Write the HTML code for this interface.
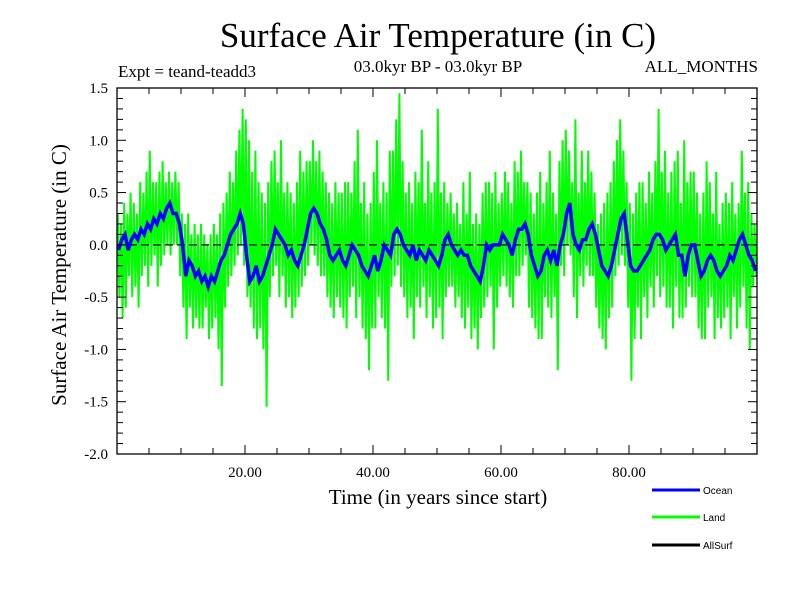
<!DOCTYPE html>
<html><head><meta charset="utf-8"><style>
body{margin:0;background:#fff}
svg text{font-family:"Liberation Serif",serif}
</style></head><body>
<svg id="chart" width="800" height="600" viewBox="0 0 800 600" xmlns="http://www.w3.org/2000/svg">
<text x="438" y="47" font-size="35" text-anchor="middle">Surface Air Temperature (in C)</text>
<text x="118" y="77" font-size="17">Expt = teand-teadd3</text>
<text x="438" y="72" font-size="17" text-anchor="middle">03.0kyr BP - 03.0kyr BP</text>
<text x="758" y="72" font-size="17" text-anchor="end">ALL_MONTHS</text>
<text transform="translate(66,275) rotate(-90)" font-size="21" text-anchor="middle">Surface Air Temperature (in C)</text>
<text x="438" y="504" font-size="21" text-anchor="middle">Time (in years since start)</text>
<g id="plot"></g>
<g id="axes"></g>
<g>
<line x1="652" y1="490" x2="700" y2="490" stroke="#0000ff" stroke-width="3"/>
<text x="703" y="494" font-size="10" style="font-family:'Liberation Sans',sans-serif">Ocean</text>
<line x1="652" y1="517" x2="700" y2="517" stroke="#00ff00" stroke-width="3"/>
<text x="703" y="521" font-size="10" style="font-family:'Liberation Sans',sans-serif">Land</text>
<line x1="652" y1="545" x2="700" y2="545" stroke="#000" stroke-width="3"/>
<text x="703" y="549" font-size="10" style="font-family:'Liberation Sans',sans-serif">AllSurf</text>
</g>
</svg>
<script>
const yTicks=[1.5,1.0,0.5,0.0,-0.5,-1.0,-1.5,-2.0];
const yTickLabels=["1.5","1.0","0.5","0.0","-0.5","-1.0","-1.5","-2.0"];
const xTicks=[20,40,60,80];
const xTickLabels=["20.00","40.00","60.00","80.00"];
const ocean=[-0.05,0.05,0.1,-0.05,0.05,0.1,0.05,0.15,0.1,0.2,0.15,0.25,0.2,0.3,0.25,0.35,0.4,0.3,0.3,0.2,
0.0,-0.3,-0.15,-0.2,-0.3,-0.25,-0.35,-0.3,-0.4,-0.3,-0.35,-0.25,-0.15,-0.1,0.0,0.1,0.15,0.2,0.3,0.2,
-0.1,-0.35,-0.3,-0.2,-0.35,-0.3,-0.2,-0.1,0.0,0.15,0.1,0.05,0.0,-0.1,-0.05,-0.15,-0.2,-0.1,0.0,0.15,
0.3,0.35,0.3,0.2,0.15,0.05,-0.1,-0.15,-0.1,-0.05,-0.15,-0.2,-0.1,0.0,-0.05,-0.1,-0.2,-0.25,-0.3,-0.2,
-0.1,-0.25,-0.15,0.0,-0.05,-0.1,0.1,0.15,0.1,0.0,-0.05,-0.1,0.0,-0.15,-0.05,-0.1,-0.15,-0.05,-0.1,-0.15,
-0.2,-0.1,0.05,0.1,0.0,-0.05,-0.1,-0.05,-0.1,-0.1,-0.2,-0.25,-0.3,-0.35,-0.2,0.0,-0.05,0.0,0.0,0.0,
0.1,0.05,0.0,-0.1,0.05,0.15,0.15,0.2,0.1,-0.1,-0.2,-0.3,-0.25,-0.1,-0.05,-0.15,-0.05,-0.2,0.0,0.1,
0.3,0.4,0.1,0.0,-0.05,0.05,0.05,0.15,0.2,0.1,-0.05,-0.2,-0.25,-0.3,-0.2,-0.05,0.1,0.25,0.3,0.05,
-0.2,-0.25,-0.25,-0.2,-0.15,-0.1,-0.05,0.05,0.1,0.1,0.05,-0.05,0.0,0.05,0.1,-0.1,-0.1,-0.3,-0.1,0.0,
0.0,-0.15,-0.3,-0.25,-0.15,-0.1,-0.15,-0.25,-0.3,-0.25,-0.2,-0.1,-0.15,-0.05,0.05,0.1,0.0,-0.1,-0.15,-0.25];
const land=[0.3,-0.5,0.2,-0.7,0.4,-0.6,0.3,-0.3,0.5,-0.5,0.4,-0.4,0.3,-0.6,0.6,-0.3,0.5,-0.2,0.7,-0.4,
0.9,-0.2,0.6,-0.1,0.6,-0.4,0.7,-0.2,0.8,-0.1,0.6,0.0,0.7,-0.1,0.6,0.0,0.7,0.0,0.6,-0.3,
0.3,-0.6,0.2,-0.9,0.3,-0.6,0.1,-0.8,0.2,-0.7,0.1,-0.8,0.2,-0.8,0.1,-0.6,0.0,-0.9,0.1,-0.8,
0.2,-0.7,0.1,-1.0,0.3,-1.35,0.4,-0.6,0.5,-0.4,0.7,-0.3,0.6,-0.2,0.9,-0.1,1.1,0.0,1.3,-0.2,
1.2,-0.5,1.0,-0.6,0.7,-0.8,0.9,-0.9,0.6,-0.8,0.5,-1.0,0.4,-1.55,0.6,-0.5,0.8,-0.3,0.9,-0.2,
0.6,-0.5,1.0,-0.3,0.5,-0.6,0.6,-0.5,0.5,-0.7,0.4,-0.6,0.6,-0.5,0.9,-0.4,0.7,-0.3,0.8,-0.2,
0.8,0.0,1.0,-0.1,0.8,-0.2,0.9,-0.3,0.7,-0.3,0.6,-0.5,0.5,-0.6,0.4,-0.7,0.6,-0.5,0.5,-0.6,
0.5,-0.7,0.6,-0.8,0.6,-0.5,0.5,-0.4,0.8,-0.7,1.1,-0.5,0.4,-0.8,0.6,-0.9,0.3,-1.2,0.4,-0.8,
0.7,-0.8,1.0,-0.5,0.4,-0.7,0.6,-0.8,0.5,-1.3,0.9,-0.4,0.9,-0.3,1.2,-0.2,1.45,-0.4,0.8,-0.5,
0.5,-0.7,0.6,-0.6,0.4,-0.9,0.7,-0.5,0.6,-0.6,1.1,-0.4,0.4,-0.7,0.8,-0.5,0.5,-0.8,0.6,-0.7,
1.3,-0.6,0.5,-0.9,0.6,-0.5,0.4,-0.4,0.5,-0.4,0.3,-0.6,0.4,-0.5,0.2,-0.7,0.6,-0.8,0.3,-0.6,
0.7,-0.9,0.2,-0.8,0.3,-1.0,0.2,-0.7,0.5,-0.6,0.6,-0.5,0.6,-0.4,0.5,-1.0,0.7,-0.6,0.4,-0.4,
0.5,-0.3,0.7,-0.4,0.6,-0.5,0.4,-0.6,0.8,-0.3,0.7,-0.3,0.9,-0.2,0.6,-0.1,0.6,-0.6,0.5,-0.7,
0.3,-0.8,0.5,-0.9,0.7,-0.9,0.4,-0.5,0.6,-0.6,0.9,-0.7,0.5,-0.5,0.3,-1.2,0.8,-0.2,1.0,-0.3,
1.1,0.0,0.9,-0.1,0.6,-0.5,1.2,-0.7,0.5,-0.3,0.9,-0.4,0.6,-0.2,0.9,-0.3,0.7,-0.3,0.5,-0.6,
0.2,-0.8,0.3,-0.9,0.4,-1.0,0.5,-0.7,0.6,-0.6,0.8,-0.3,1.0,-0.2,1.2,-0.1,0.9,-0.2,0.6,-0.6,
0.4,-1.3,0.3,-0.9,0.5,-0.6,0.6,-0.9,0.6,-0.5,0.4,-0.7,0.7,-0.4,0.5,-0.6,0.8,-0.3,1.3,-0.5,
0.7,-0.4,0.9,-0.6,0.5,-0.6,0.7,-0.8,0.8,-0.4,0.9,-0.7,0.4,-0.7,1.0,-0.6,0.6,-0.4,0.7,-0.5,
0.7,-0.5,0.5,-0.8,0.3,-0.9,0.5,-0.9,0.8,-0.6,0.6,-0.5,0.3,-0.9,0.7,-0.7,0.2,-0.8,0.4,-0.7,
0.5,-0.6,0.4,-0.9,0.6,-0.5,0.3,-0.8,0.4,-0.6,0.9,-0.4,0.5,-0.8,0.6,-1.0,0.3,-0.4,0.2,-0.3];

const X0=117,X1=757,Y0=454,Y1=88;
const xs=t=>X0+(t/100)*(X1-X0);
const ys=v=>Y0-(v+2)/3.5*(Y0-Y1);
const NS="http://www.w3.org/2000/svg";
const plot=document.getElementById('plot'), axes=document.getElementById('axes');
function mk(tag,attrs,parent){const e=document.createElementNS(NS,tag);for(const k in attrs)e.setAttribute(k,attrs[k]);parent.appendChild(e);return e;}

let pts=land.map((v,i)=>xs((i+0.5)*100/land.length).toFixed(1)+','+ys(v).toFixed(1)).join(' ');
const landLine=mk('polyline',{points:pts,fill:'none',stroke:'#00ff00','stroke-width':2},plot);


const zl=mk('line',{x1:X0,x2:X1,y1:ys(0),y2:ys(0),stroke:'#000','stroke-width':1.2,'stroke-dasharray':'8,4'},plot);


pts=ocean.map((v,i)=>xs((i+0.5)*100/ocean.length).toFixed(1)+','+ys(v).toFixed(1)).join(' ');
const oceanLine=mk('polyline',{points:pts,fill:'none',stroke:'#0000ff','stroke-width':3.5},plot);



const fr=mk('rect',{x:X0,y:Y1,width:X1-X0,height:Y0-Y1,fill:'none',stroke:'#000','stroke-width':1.3},axes);


for(let k=0;k<=35;k++){const v=-2+k*0.1;const y=ys(v);const L=(k%5===0)?9:6;
 mk('line',{x1:X0,x2:X0+L,y1:y,y2:y,stroke:'#000','stroke-width':1},axes);
 mk('line',{x1:X1,x2:X1-L,y1:y,y2:y,stroke:'#000','stroke-width':1},axes);}
for(let t=5;t<100;t+=5){const x=xs(t);const L=(t%20===0)?9:6;
 mk('line',{x1:x,x2:x,y1:Y1,y2:Y1+L,stroke:'#000','stroke-width':1},axes);
 mk('line',{x1:x,x2:x,y1:Y0,y2:Y0-L,stroke:'#000','stroke-width':1},axes);}
yTicks.forEach((v,i)=>{const t=mk('text',{x:X0-9,y:ys(v)+5,'font-size':15,'text-anchor':'end'},axes);t.textContent=yTickLabels[i];
 
 });
xTicks.forEach((v,i)=>{const t=mk('text',{x:xs(v),y:Y0+23,'font-size':15,'text-anchor':'middle'},axes);t.textContent=xTickLabels[i];
 
 });
</script>
</body></html>
